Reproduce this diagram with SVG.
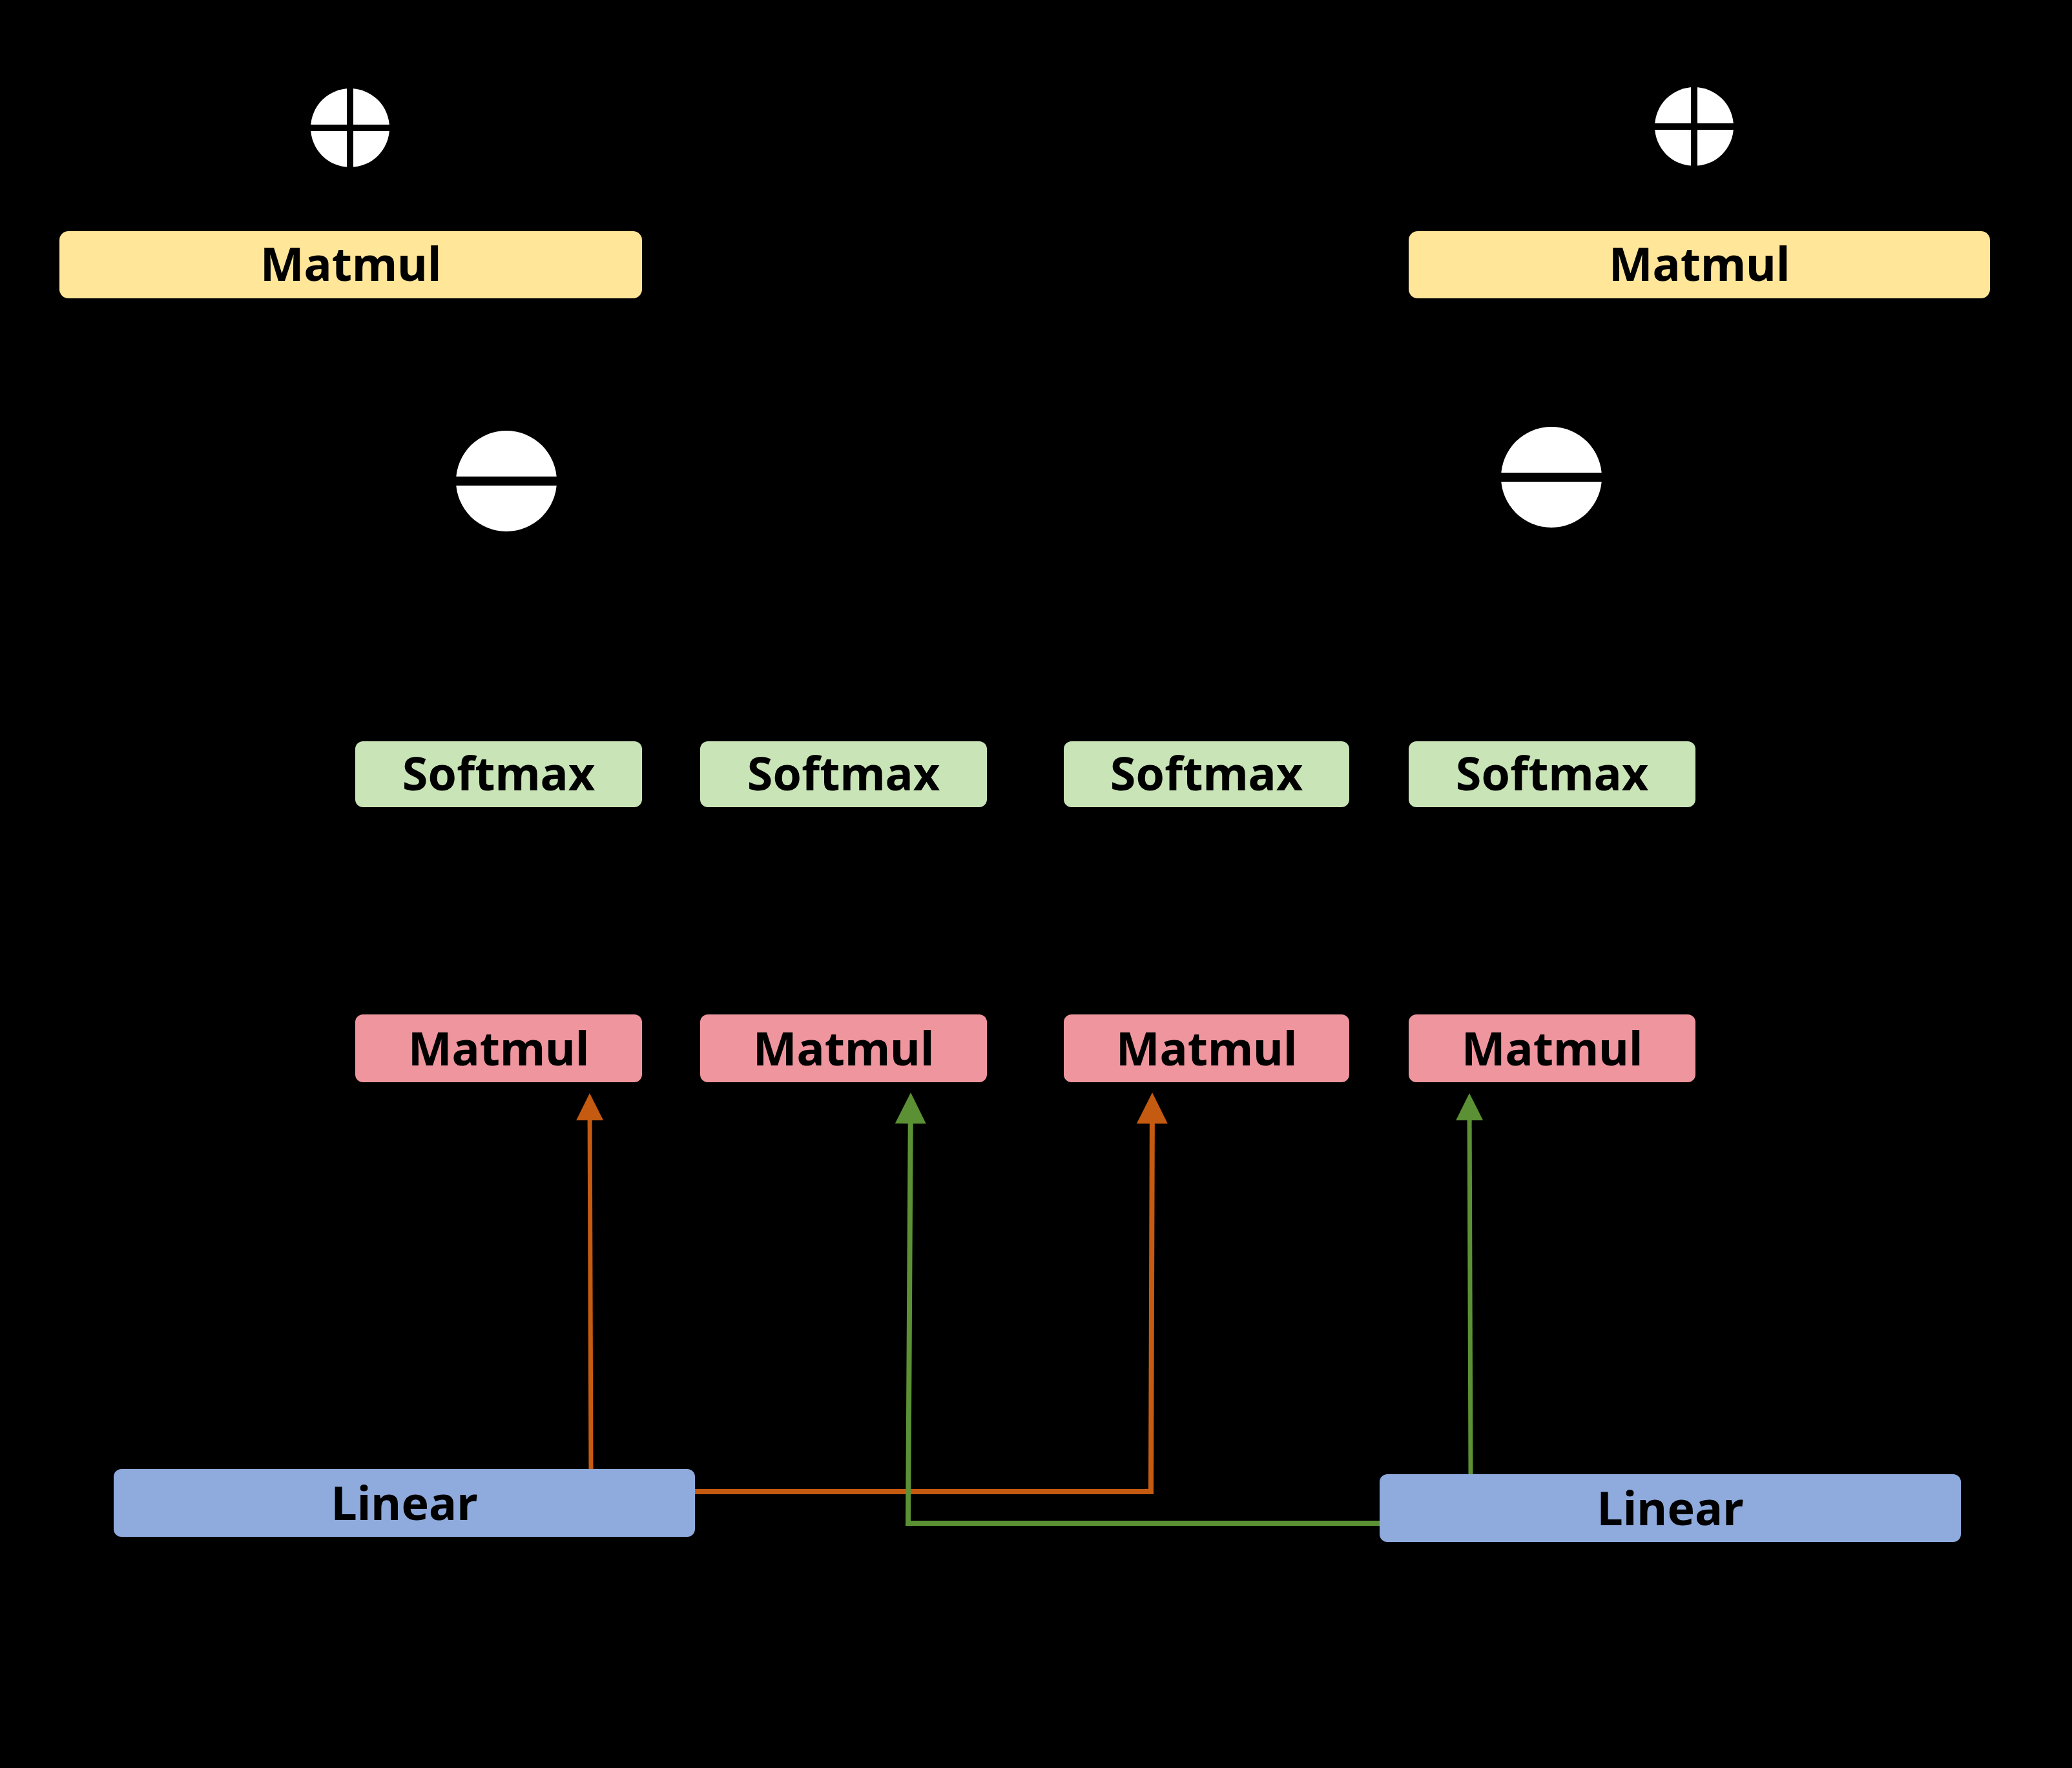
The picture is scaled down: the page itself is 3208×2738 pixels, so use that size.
<svg xmlns="http://www.w3.org/2000/svg" width="3208" height="2738" viewBox="0 0 3208 2738">
<style>
.lbl{font-family:"Noto Sans","Liberation Sans",sans-serif;font-weight:bold;font-size:72px;fill:#000;text-anchor:middle}
.t{font-family:"Noto Sans","Liberation Sans",sans-serif;font-size:60px;fill:#000;text-anchor:middle}
.s{font-size:38px}
.y{fill:#ffe699}.g{fill:#c9e4b6}.p{fill:#ef959d}.b{fill:#8faadc}
.op{fill:#fff}
.or{stroke:#c55a11;fill:none}.gr{stroke:#5b9134;fill:none}
</style>
<defs>
<marker id="ao" markerWidth="6" markerHeight="6" refX="5" refY="3" orient="auto" markerUnits="strokeWidth"><path d="M0,0 L6,3 L0,6z" fill="#c55a11"/></marker>
<marker id="ag" markerWidth="6" markerHeight="6" refX="5" refY="3" orient="auto" markerUnits="strokeWidth"><path d="M0,0 L6,3 L0,6z" fill="#5b9134"/></marker>
</defs>
<rect width="3208" height="2738" fill="#000"/>
<g id="plusA"><circle class="op" cx="542" cy="198" r="61"/><path d="M481,198H603M542,137V259" stroke="#000" stroke-width="10"/></g>
<g id="plusB"><circle class="op" cx="2623" cy="196" r="61"/><path d="M2562,196H2684M2623,135V257" stroke="#000" stroke-width="10"/></g>
<g id="minusA"><circle class="op" cx="784" cy="745" r="78"/><path d="M706,745H862" stroke="#000" stroke-width="14"/></g>
<g id="minusB"><circle class="op" cx="2402" cy="739" r="78"/><path d="M2324,739H2480" stroke="#000" stroke-width="14"/></g>
<g id="matmulA"><rect class="y" x="92" y="358" width="902" height="104" rx="14"/><text class="lbl" x="543" y="435">Matmul</text></g>
<g id="matmulB"><rect class="y" x="2181" y="358" width="900" height="104" rx="14"/><text class="lbl" x="2631" y="435">Matmul</text></g>
<g id="sm1"><rect class="g" x="550" y="1148" width="444" height="102" rx="12"/><text class="lbl" x="772" y="1224">Softmax</text></g>
<g id="sm2"><rect class="g" x="1084" y="1148" width="444" height="102" rx="12"/><text class="lbl" x="1306" y="1224">Softmax</text></g>
<g id="sm3"><rect class="g" x="1647" y="1148" width="442" height="102" rx="12"/><text class="lbl" x="1868" y="1224">Softmax</text></g>
<g id="sm4"><rect class="g" x="2181" y="1148" width="444" height="102" rx="12"/><text class="lbl" x="2403" y="1224">Softmax</text></g>
<g id="mm1"><rect class="p" x="550" y="1571" width="444" height="105" rx="12"/><text class="lbl" x="772" y="1650">Matmul</text></g>
<g id="mm2"><rect class="p" x="1084" y="1571" width="444" height="105" rx="12"/><text class="lbl" x="1306" y="1650">Matmul</text></g>
<g id="mm3"><rect class="p" x="1647" y="1571" width="442" height="105" rx="12"/><text class="lbl" x="1868" y="1650">Matmul</text></g>
<g id="mm4"><rect class="p" x="2181" y="1571" width="444" height="105" rx="12"/><text class="lbl" x="2403" y="1650">Matmul</text></g>
<g id="linA"><rect class="b" x="176" y="2275" width="900" height="105" rx="12"/><text class="lbl" x="626" y="2354">Linear</text></g>
<g id="linB"><rect class="b" x="2136" y="2283" width="900" height="105" rx="12"/><text class="lbl" x="2586" y="2362">Linear</text></g>
<g id="labels">
<text class="t" x="820" y="240">Feature A</text>
<text class="t" x="2290" y="240">Feature B</text>
<text class="t" x="980" y="610">Diff_Attn<tspan class="s" dy="15">A</tspan></text>
<text class="t" x="2600" y="610">Diff_Attn<tspan class="s" dy="15">B</tspan></text>
<text class="t" x="880" y="1505">Attn<tspan class="s" dy="15">AA</tspan></text>
<text class="t" x="1415" y="1505">Attn<tspan class="s" dy="15">BA</tspan></text>
<text class="t" x="1975" y="1505">Attn<tspan class="s" dy="15">AB</tspan></text>
<text class="t" x="2525" y="1505">Attn<tspan class="s" dy="15">BB</tspan></text>
<text class="t" x="300" y="2230">V<tspan class="s" dy="15">A</tspan></text>
<text class="t" x="665" y="2230">K<tspan class="s" dy="15">A</tspan></text>
<text class="t" x="965" y="2230">Q<tspan class="s" dy="15">A</tspan></text>
<text class="t" x="2325" y="2230">Q<tspan class="s" dy="15">B</tspan></text>
<text class="t" x="2635" y="2230">K<tspan class="s" dy="15">B</tspan></text>
<text class="t" x="2940" y="2230">V<tspan class="s" dy="15">B</tspan></text>
<text class="t" x="1230" y="2455">Q<tspan class="s" dy="15">A_pos</tspan></text>
<text class="t" x="2040" y="2455">Q<tspan class="s" dy="15">B_pos</tspan></text>
<text class="t" x="880" y="2660">Modality A</text>
<text class="t" x="2820" y="2660">Modality B</text>
</g>
<g id="connectors">
<path class="or" d="M915,2275 L913,1700" stroke-width="7" marker-end="url(#ao)"/>
<path class="or" d="M1076,2310 H1782 L1784,1700" stroke-width="8" marker-end="url(#ao)"/>
<path class="gr" d="M2136,2359 H1406 L1410,1700" stroke-width="8" marker-end="url(#ag)"/>
<path class="gr" d="M2277,2283 L2275,1700" stroke-width="7" marker-end="url(#ag)"/>
</g>
</svg>
